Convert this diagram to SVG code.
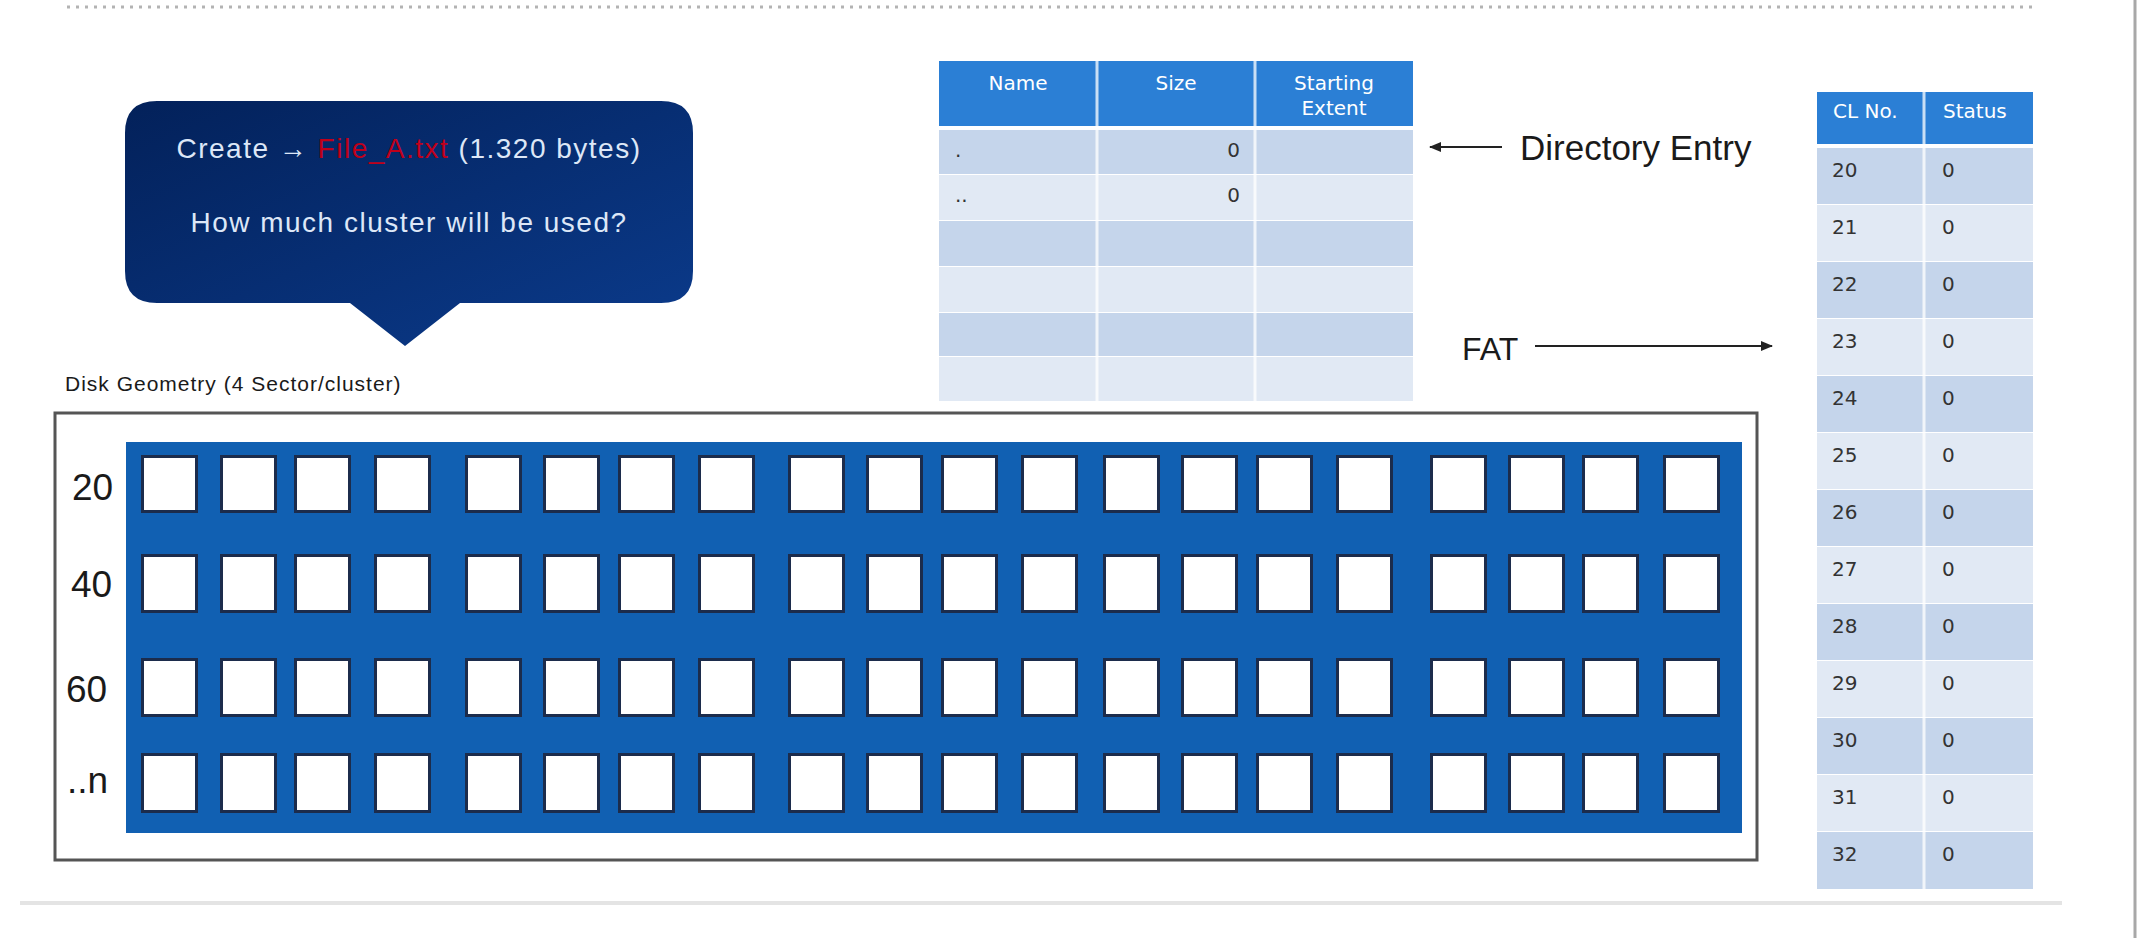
<svg xmlns="http://www.w3.org/2000/svg" width="2138" height="938" viewBox="0 0 2138 938">
<style>
  .lbl { font-family: "Liberation Sans", Arial, sans-serif; fill: #1a1a1a; }
  .bub { font-family: "Liberation Sans", Arial, sans-serif; font-size: 28px; fill: #dde7f7; letter-spacing: 1.5px; }
  .tbl { font-family: "DejaVu Sans", Verdana, sans-serif; font-size: 20px; fill: #333333; }
  .hdr { font-family: "DejaVu Sans", Verdana, sans-serif; font-size: 20px; fill: #ffffff; }
  .sq { fill: #ffffff; stroke: #1c2c4c; stroke-width: 3; }
  .rowD { fill: #c5d5eb; }
  .rowL { fill: #e1e9f4; }
  .head { fill: #2b7fd5; }
  .div { stroke: #ffffff; stroke-width: 3; stroke-opacity: 0.75; }
  .conn { stroke: #222222; stroke-width: 2; fill: none; }
</style>
<defs>
  <linearGradient id="bubGrad" x1="0" y1="0" x2="1" y2="1">
    <stop offset="0" stop-color="#03215a"/>
    <stop offset="1" stop-color="#0b3b8c"/>
  </linearGradient>
  <marker id="arr" viewBox="0 0 12 10" refX="11" refY="5" markerWidth="12" markerHeight="10" markerUnits="userSpaceOnUse" orient="auto">
    <path d="M0,0 L12,5 L0,10 Z" fill="#222222"/>
  </marker>
</defs>
<rect width="2138" height="938" fill="#ffffff"/>
<g id="frame">
  <line x1="67" y1="7" x2="2032" y2="7" stroke="#b3b3b3" stroke-width="3" stroke-dasharray="3 6"/>
  <line x1="20" y1="903" x2="2062" y2="903" stroke="#e4e4e4" stroke-width="4"/>
  <line x1="2135" y1="0" x2="2135" y2="938" stroke="#a8a8a8" stroke-width="3"/>
</g>
<g id="bubble">
  <path d="M157,101 H661 Q693,101 693,133 V271 Q693,303 661,303 H460 L405,346 L350,303 H157 Q125,303 125,271 V133 Q125,101 157,101 Z" fill="url(#bubGrad)"/>
  <text class="bub" x="409" y="158" text-anchor="middle">Create → <tspan fill="#c0001a">File_A.txt</tspan> (1.320 bytes)</text>
  <text class="bub" x="409" y="232" text-anchor="middle">How much cluster will be used?</text>
</g>
<g id="disk-geometry">
  <text class="lbl" x="65" y="391" font-size="21" letter-spacing="1">Disk Geometry (4 Sector/cluster)</text>
  <rect x="55" y="413" width="1702" height="447" fill="#ffffff" stroke="#555555" stroke-width="3"/>
  <rect x="126" y="442" width="1616" height="391" fill="#1160b2"/>
  <text class="lbl" x="72" y="500" font-size="37">20</text>
  <text class="lbl" x="71" y="597" font-size="37">40</text>
  <text class="lbl" x="66" y="702" font-size="37">60</text>
  <text class="lbl" x="67" y="793" font-size="37">..n</text>
  <g id="sectors">
    <g id="row20">
      <rect class="sq" x="142.5" y="456.5" width="54" height="55"/><rect class="sq" x="221.5" y="456.5" width="54" height="55"/><rect class="sq" x="295.5" y="456.5" width="54" height="55"/><rect class="sq" x="375.5" y="456.5" width="54" height="55"/>
      <rect class="sq" x="466.5" y="456.5" width="54" height="55"/><rect class="sq" x="544.5" y="456.5" width="54" height="55"/><rect class="sq" x="619.5" y="456.5" width="54" height="55"/><rect class="sq" x="699.5" y="456.5" width="54" height="55"/>
      <rect class="sq" x="789.5" y="456.5" width="54" height="55"/><rect class="sq" x="867.5" y="456.5" width="54" height="55"/><rect class="sq" x="942.5" y="456.5" width="54" height="55"/><rect class="sq" x="1022.5" y="456.5" width="54" height="55"/>
      <rect class="sq" x="1104.5" y="456.5" width="54" height="55"/><rect class="sq" x="1182.5" y="456.5" width="54" height="55"/><rect class="sq" x="1257.5" y="456.5" width="54" height="55"/><rect class="sq" x="1337.5" y="456.5" width="54" height="55"/>
      <rect class="sq" x="1431.5" y="456.5" width="54" height="55"/><rect class="sq" x="1509.5" y="456.5" width="54" height="55"/><rect class="sq" x="1583.5" y="456.5" width="54" height="55"/><rect class="sq" x="1664.5" y="456.5" width="54" height="55"/>
    </g>
    <g id="row40">
      <rect class="sq" x="142.5" y="555.5" width="54" height="56"/><rect class="sq" x="221.5" y="555.5" width="54" height="56"/><rect class="sq" x="295.5" y="555.5" width="54" height="56"/><rect class="sq" x="375.5" y="555.5" width="54" height="56"/>
      <rect class="sq" x="466.5" y="555.5" width="54" height="56"/><rect class="sq" x="544.5" y="555.5" width="54" height="56"/><rect class="sq" x="619.5" y="555.5" width="54" height="56"/><rect class="sq" x="699.5" y="555.5" width="54" height="56"/>
      <rect class="sq" x="789.5" y="555.5" width="54" height="56"/><rect class="sq" x="867.5" y="555.5" width="54" height="56"/><rect class="sq" x="942.5" y="555.5" width="54" height="56"/><rect class="sq" x="1022.5" y="555.5" width="54" height="56"/>
      <rect class="sq" x="1104.5" y="555.5" width="54" height="56"/><rect class="sq" x="1182.5" y="555.5" width="54" height="56"/><rect class="sq" x="1257.5" y="555.5" width="54" height="56"/><rect class="sq" x="1337.5" y="555.5" width="54" height="56"/>
      <rect class="sq" x="1431.5" y="555.5" width="54" height="56"/><rect class="sq" x="1509.5" y="555.5" width="54" height="56"/><rect class="sq" x="1583.5" y="555.5" width="54" height="56"/><rect class="sq" x="1664.5" y="555.5" width="54" height="56"/>
    </g>
    <g id="row60">
      <rect class="sq" x="142.5" y="659.5" width="54" height="56"/><rect class="sq" x="221.5" y="659.5" width="54" height="56"/><rect class="sq" x="295.5" y="659.5" width="54" height="56"/><rect class="sq" x="375.5" y="659.5" width="54" height="56"/>
      <rect class="sq" x="466.5" y="659.5" width="54" height="56"/><rect class="sq" x="544.5" y="659.5" width="54" height="56"/><rect class="sq" x="619.5" y="659.5" width="54" height="56"/><rect class="sq" x="699.5" y="659.5" width="54" height="56"/>
      <rect class="sq" x="789.5" y="659.5" width="54" height="56"/><rect class="sq" x="867.5" y="659.5" width="54" height="56"/><rect class="sq" x="942.5" y="659.5" width="54" height="56"/><rect class="sq" x="1022.5" y="659.5" width="54" height="56"/>
      <rect class="sq" x="1104.5" y="659.5" width="54" height="56"/><rect class="sq" x="1182.5" y="659.5" width="54" height="56"/><rect class="sq" x="1257.5" y="659.5" width="54" height="56"/><rect class="sq" x="1337.5" y="659.5" width="54" height="56"/>
      <rect class="sq" x="1431.5" y="659.5" width="54" height="56"/><rect class="sq" x="1509.5" y="659.5" width="54" height="56"/><rect class="sq" x="1583.5" y="659.5" width="54" height="56"/><rect class="sq" x="1664.5" y="659.5" width="54" height="56"/>
    </g>
    <g id="rowN">
      <rect class="sq" x="142.5" y="754.5" width="54" height="57"/><rect class="sq" x="221.5" y="754.5" width="54" height="57"/><rect class="sq" x="295.5" y="754.5" width="54" height="57"/><rect class="sq" x="375.5" y="754.5" width="54" height="57"/>
      <rect class="sq" x="466.5" y="754.5" width="54" height="57"/><rect class="sq" x="544.5" y="754.5" width="54" height="57"/><rect class="sq" x="619.5" y="754.5" width="54" height="57"/><rect class="sq" x="699.5" y="754.5" width="54" height="57"/>
      <rect class="sq" x="789.5" y="754.5" width="54" height="57"/><rect class="sq" x="867.5" y="754.5" width="54" height="57"/><rect class="sq" x="942.5" y="754.5" width="54" height="57"/><rect class="sq" x="1022.5" y="754.5" width="54" height="57"/>
      <rect class="sq" x="1104.5" y="754.5" width="54" height="57"/><rect class="sq" x="1182.5" y="754.5" width="54" height="57"/><rect class="sq" x="1257.5" y="754.5" width="54" height="57"/><rect class="sq" x="1337.5" y="754.5" width="54" height="57"/>
      <rect class="sq" x="1431.5" y="754.5" width="54" height="57"/><rect class="sq" x="1509.5" y="754.5" width="54" height="57"/><rect class="sq" x="1583.5" y="754.5" width="54" height="57"/><rect class="sq" x="1664.5" y="754.5" width="54" height="57"/>
    </g>
  </g>
</g>
<g id="directory-table">
  <rect class="head" x="939" y="61" width="474" height="65"/>
  <rect class="rowD" x="939" y="130" width="474" height="44"/>
  <rect class="rowL" x="939" y="175" width="474" height="45"/>
  <rect class="rowD" x="939" y="221" width="474" height="45"/>
  <rect class="rowL" x="939" y="267" width="474" height="45"/>
  <rect class="rowD" x="939" y="313" width="474" height="43"/>
  <rect class="rowL" x="939" y="357" width="474" height="44"/>
  <line class="div" x1="1097" y1="61" x2="1097" y2="401"/>
  <line class="div" x1="1255" y1="61" x2="1255" y2="401"/>
  <text class="hdr" x="1018" y="90" text-anchor="middle">Name</text>
  <text class="hdr" x="1176" y="90" text-anchor="middle">Size</text>
  <text class="hdr" x="1334" y="90" text-anchor="middle">Starting</text>
  <text class="hdr" x="1334" y="115" text-anchor="middle">Extent</text>
  <text class="tbl" x="955" y="157">.</text>
  <text class="tbl" x="1240" y="157" text-anchor="end">0</text>
  <text class="tbl" x="955" y="202">..</text>
  <text class="tbl" x="1240" y="202" text-anchor="end">0</text>
</g>
<g id="directory-entry-label">
  <text class="lbl" x="1520" y="160" font-size="35">Directory Entry</text>
</g>
<g id="fat-label">
  <text class="lbl" x="1462" y="360" font-size="32">FAT</text>
</g>
<g id="fat-table">
  <rect class="head" x="1817" y="92" width="216" height="52"/>
  <rect class="rowD" x="1817" y="148" width="216" height="56"/>
  <rect class="rowL" x="1817" y="205" width="216" height="56"/>
  <rect class="rowD" x="1817" y="262" width="216" height="56"/>
  <rect class="rowL" x="1817" y="319" width="216" height="56"/>
  <rect class="rowD" x="1817" y="376" width="216" height="56"/>
  <rect class="rowL" x="1817" y="433" width="216" height="56"/>
  <rect class="rowD" x="1817" y="490" width="216" height="56"/>
  <rect class="rowL" x="1817" y="547" width="216" height="56"/>
  <rect class="rowD" x="1817" y="604" width="216" height="56"/>
  <rect class="rowL" x="1817" y="661" width="216" height="56"/>
  <rect class="rowD" x="1817" y="718" width="216" height="56"/>
  <rect class="rowL" x="1817" y="775" width="216" height="56"/>
  <rect class="rowD" x="1817" y="832" width="216" height="57"/>
  <line class="div" x1="1924" y1="92" x2="1924" y2="889"/>
  <text class="hdr" x="1833" y="118">CL No.</text>
  <text class="hdr" x="1943" y="118">Status</text>
  <text class="tbl" x="1832" y="177">20</text><text class="tbl" x="1942" y="177">0</text>
  <text class="tbl" x="1832" y="234">21</text><text class="tbl" x="1942" y="234">0</text>
  <text class="tbl" x="1832" y="291">22</text><text class="tbl" x="1942" y="291">0</text>
  <text class="tbl" x="1832" y="348">23</text><text class="tbl" x="1942" y="348">0</text>
  <text class="tbl" x="1832" y="405">24</text><text class="tbl" x="1942" y="405">0</text>
  <text class="tbl" x="1832" y="462">25</text><text class="tbl" x="1942" y="462">0</text>
  <text class="tbl" x="1832" y="519">26</text><text class="tbl" x="1942" y="519">0</text>
  <text class="tbl" x="1832" y="576">27</text><text class="tbl" x="1942" y="576">0</text>
  <text class="tbl" x="1832" y="633">28</text><text class="tbl" x="1942" y="633">0</text>
  <text class="tbl" x="1832" y="690">29</text><text class="tbl" x="1942" y="690">0</text>
  <text class="tbl" x="1832" y="747">30</text><text class="tbl" x="1942" y="747">0</text>
  <text class="tbl" x="1832" y="804">31</text><text class="tbl" x="1942" y="804">0</text>
  <text class="tbl" x="1832" y="861">32</text><text class="tbl" x="1942" y="861">0</text>
</g>
<g id="connectors">
  <line class="conn" x1="1502" y1="147" x2="1430" y2="147" marker-end="url(#arr)"/>
  <line class="conn" x1="1535" y1="346" x2="1772" y2="346" marker-end="url(#arr)"/>
</g>
</svg>
